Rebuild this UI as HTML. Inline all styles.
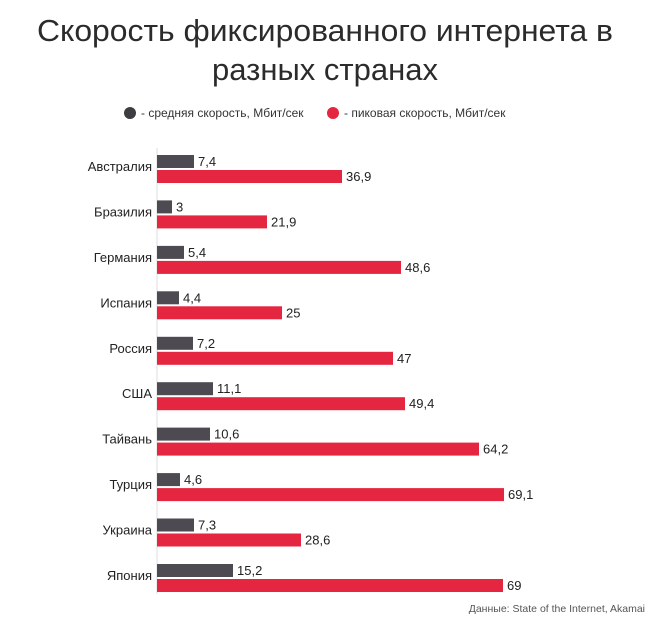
<!DOCTYPE html>
<html><head><meta charset="utf-8"><style>
html,body{margin:0;padding:0;background:#fff;}
svg{display:block;font-family:"Liberation Sans","DejaVu Sans",sans-serif;}
</style></head><body>
<svg width="650" height="617" viewBox="0 0 650 617" xmlns="http://www.w3.org/2000/svg">
<text x="325" y="41" font-size="31" fill="#2b2b2b" text-anchor="middle" textLength="576" lengthAdjust="spacingAndGlyphs">Скорость фиксированного интернета в</text>
<text x="325" y="80" font-size="31" fill="#2b2b2b" text-anchor="middle">разных странах</text>
<circle cx="130" cy="113" r="6" fill="#3d3c40"/>
<text x="141" y="117" font-size="12" fill="#333">- средняя скорость, Мбит/сек</text>
<circle cx="333" cy="113" r="6" fill="#e52640"/>
<text x="344" y="117" font-size="12" fill="#333">- пиковая скорость, Мбит/сек</text>
<line x1="157" y1="148" x2="157" y2="594" stroke="#ddd" stroke-width="1"/>
<g font-size="13" fill="#222">
<script type="text/javascript"></script>
</g>
<g id="bars" font-size="13" fill="#222"></g>
<text x="645" y="612" font-size="10.5" fill="#555" text-anchor="end">Данные: State of the Internet, Akamai</text>
<g font-size="13" fill="#222">
<!-- rows -->
<g transform="translate(0,0)">
<text x="152" y="171" text-anchor="end">Австралия</text>
<rect x="157" y="155" width="37" height="13" fill="#4d4a52"/><text x="198" y="166">7,4</text>
<rect x="157" y="170" width="185" height="13" fill="#e52640"/><text x="346" y="181">36,9</text>
</g>
<g transform="translate(0,45.4)">
<text x="152" y="171" text-anchor="end">Бразилия</text>
<rect x="157" y="155" width="15" height="13" fill="#4d4a52"/><text x="176" y="166">3</text>
<rect x="157" y="170" width="110" height="13" fill="#e52640"/><text x="271" y="181">21,9</text>
</g>
<g transform="translate(0,90.9)">
<text x="152" y="171" text-anchor="end">Германия</text>
<rect x="157" y="155" width="27" height="13" fill="#4d4a52"/><text x="188" y="166">5,4</text>
<rect x="157" y="170" width="244" height="13" fill="#e52640"/><text x="405" y="181">48,6</text>
</g>
<g transform="translate(0,136.3)">
<text x="152" y="171" text-anchor="end">Испания</text>
<rect x="157" y="155" width="22" height="13" fill="#4d4a52"/><text x="183" y="166">4,4</text>
<rect x="157" y="170" width="125" height="13" fill="#e52640"/><text x="286" y="181">25</text>
</g>
<g transform="translate(0,181.8)">
<text x="152" y="171" text-anchor="end">Россия</text>
<rect x="157" y="155" width="36" height="13" fill="#4d4a52"/><text x="197" y="166">7,2</text>
<rect x="157" y="170" width="236" height="13" fill="#e52640"/><text x="397" y="181">47</text>
</g>
<g transform="translate(0,227.2)">
<text x="152" y="171" text-anchor="end">США</text>
<rect x="157" y="155" width="56" height="13" fill="#4d4a52"/><text x="217" y="166">11,1</text>
<rect x="157" y="170" width="248" height="13" fill="#e52640"/><text x="409" y="181">49,4</text>
</g>
<g transform="translate(0,272.6)">
<text x="152" y="171" text-anchor="end">Тайвань</text>
<rect x="157" y="155" width="53" height="13" fill="#4d4a52"/><text x="214" y="166">10,6</text>
<rect x="157" y="170" width="322" height="13" fill="#e52640"/><text x="483" y="181">64,2</text>
</g>
<g transform="translate(0,318.1)">
<text x="152" y="171" text-anchor="end">Турция</text>
<rect x="157" y="155" width="23" height="13" fill="#4d4a52"/><text x="184" y="166">4,6</text>
<rect x="157" y="170" width="347" height="13" fill="#e52640"/><text x="508" y="181">69,1</text>
</g>
<g transform="translate(0,363.5)">
<text x="152" y="171" text-anchor="end">Украина</text>
<rect x="157" y="155" width="37" height="13" fill="#4d4a52"/><text x="198" y="166">7,3</text>
<rect x="157" y="170" width="144" height="13" fill="#e52640"/><text x="305" y="181">28,6</text>
</g>
<g transform="translate(0,409)">
<text x="152" y="171" text-anchor="end">Япония</text>
<rect x="157" y="155" width="76" height="13" fill="#4d4a52"/><text x="237" y="166">15,2</text>
<rect x="157" y="170" width="346" height="13" fill="#e52640"/><text x="507" y="181">69</text>
</g>
</g>
</svg>
</body></html>
